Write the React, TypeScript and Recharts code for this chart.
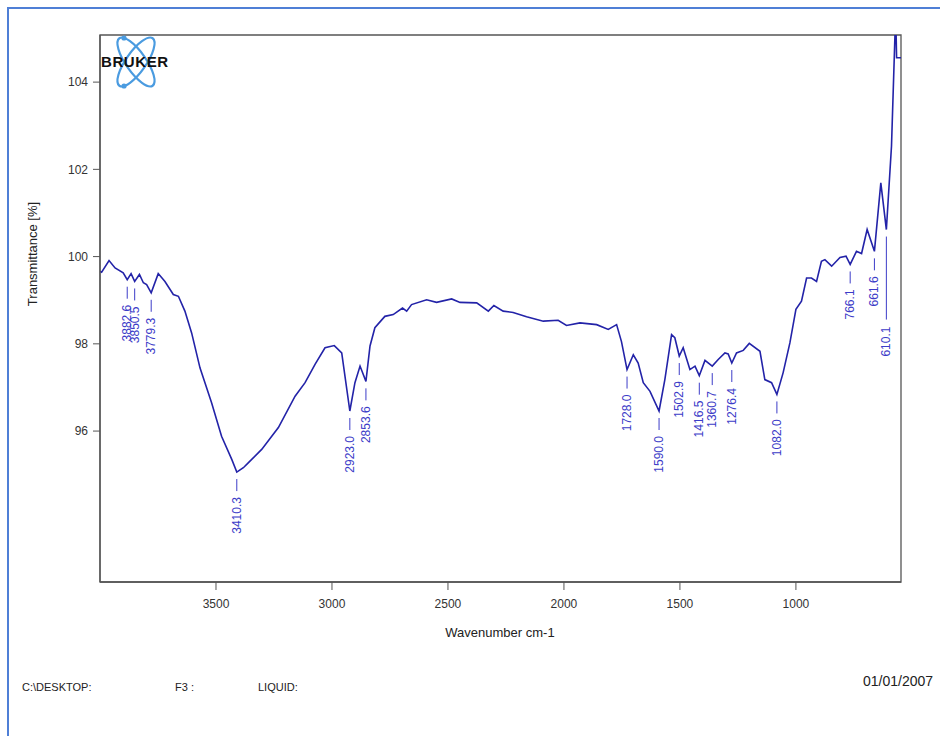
import React from "react";
import { ComposedChart, Line, Scatter, XAxis, YAxis, ReferenceArea } from "recharts";

const WAVENUMBERS = [
  4000, 3993, 3961, 3935, 3900, 3882.6, 3866, 3850.5, 3830, 3813, 3799, 3779.3, 3749, 3720, 3684, 3662,
  3634, 3605, 3569, 3519, 3476, 3432, 3410.3, 3382, 3361, 3303, 3231, 3159, 3116, 3073, 3030, 2990,
  2958, 2923.0, 2901, 2879, 2853.6, 2836, 2815, 2772, 2736, 2696, 2678, 2657, 2592, 2549, 2484, 2448,
  2376, 2326, 2302, 2262, 2219, 2161, 2089, 2025, 1989, 1931, 1859, 1809, 1773, 1752, 1728.0, 1701,
  1680, 1658, 1629, 1590.0, 1565, 1536, 1522, 1502.9, 1486, 1457, 1435, 1416.5, 1392, 1360.7, 1335,
  1306, 1292, 1276.4, 1256, 1227, 1201, 1155, 1134, 1105, 1082.0, 1055, 1026, 1000, 976, 954, 933,
  911, 890, 875, 846, 810, 784, 766.1, 739, 717, 693, 661.6, 634, 610.1, 588, 573, 570, 566, 547,
];
const TRANSMITTANCE = [
  99.66, 99.64, 99.91, 99.74, 99.63, 99.47, 99.61, 99.43, 99.59, 99.4, 99.36, 99.17, 99.61, 99.43, 99.13, 99.09,
  98.75, 98.25, 97.45, 96.65, 95.88, 95.35, 95.06, 95.16, 95.27, 95.58, 96.08, 96.8, 97.11, 97.53, 97.91, 97.96,
  97.79, 96.46, 97.11, 97.49, 97.14, 97.95, 98.37, 98.63, 98.67, 98.82, 98.75, 98.9, 99.01, 98.95, 99.03, 98.95,
  98.94, 98.75, 98.88, 98.75, 98.72, 98.62, 98.52, 98.54, 98.42, 98.48, 98.44, 98.33, 98.44, 98.05, 97.41, 97.75,
  97.56, 97.11, 96.91, 96.46, 97.18, 98.21, 98.14, 97.72, 97.91, 97.41, 97.49, 97.27, 97.62, 97.49, 97.64,
  97.79, 97.77, 97.56, 97.79, 97.85, 98.01, 97.83, 97.18, 97.11, 96.84, 97.34, 98.02, 98.79, 98.98, 99.51, 99.51,
  99.43, 99.89, 99.93, 99.78, 99.98, 100.01, 99.82, 100.12, 100.07, 100.62, 100.12, 101.69, 100.62, 102.53, 105.08, 105.6, 104.56, 104.56,
];

const PEAK_WAVENUMBERS = [3882.6, 3850.5, 3779.3, 3410.3, 2923.0, 2853.6, 1728.0, 1590.0, 1502.9, 1416.5, 1360.7, 1276.4, 1082.0, 766.1, 661.6, 610.1];
const PEAK_LABELS = ["3882.6", "3850.5", "3779.3", "3410.3", "2923.0", "2853.6", "1728.0", "1590.0", "1502.9", "1416.5", "1360.7", "1276.4", "1082.0", "766.1", "661.6", "610.1"];
const LONG_LEADER = ["610.1"];

const X_TICKS = [3500, 3000, 2500, 2000, 1500, 1000];
const Y_TICKS = [96, 98, 100, 102, 104];
const X_DOMAIN: [number, number] = [547, 4000];
const Y_DOMAIN: [number, number] = [92.54, 105.08];

const spectrum = WAVENUMBERS.map((wn, i) => ({ wn, t: TRANSMITTANCE[i] }));
const peaks = PEAK_WAVENUMBERS.map((wn, i) => {
  const p = spectrum.find((s) => s.wn === wn);
  return { wn, t: p ? p.t : 0, label: PEAK_LABELS[i] };
});

const FONT = "'Liberation Sans', Arial, Helvetica, sans-serif";
const LABEL_BLUE = "#3c3cc8";
const AXIS_GRAY = "#555";

const PeakMark = (props: any) => {
  const { cx, cy, payload } = props;
  if (cx == null || cy == null || !payload) return <g />;
  const long = LONG_LEADER.includes(payload.label);
  const y1 = cy + 7;
  const y2 = long ? cy + 90 : cy + 19;
  const ty = long ? cy + 97 : cy + 25;
  return (
    <g>
      <line x1={cx} x2={cx} y1={y1} y2={y2} stroke={LABEL_BLUE} strokeWidth={1} />
      <text
        x={cx}
        y={ty}
        transform={`rotate(-90 ${cx} ${ty})`}
        textAnchor="end"
        dominantBaseline="central"
        fontSize={12}
        fontFamily={FONT}
        fill={LABEL_BLUE}
      >
        {payload.label}
      </text>
    </g>
  );
};

const Logo = () => (
  <svg width={80} height={60} style={{ position: "absolute", left: 100, top: 33 }}>
    <g transform="translate(36,29)">
      <ellipse cx={0} cy={0} rx={29} ry={10} transform="rotate(55)" fill="none" stroke="#4a9be0" strokeWidth={2.2} />
      <ellipse cx={0} cy={0} rx={29} ry={10} transform="rotate(-55)" fill="none" stroke="#4a9be0" strokeWidth={2.2} />
      <circle cx={-12} cy={-24} r={2.6} fill="#4a9be0" />
      <circle cx={-12} cy={24} r={2.6} fill="#4a9be0" />
    </g>
    <text x={1} y={34} fontSize={15} fontWeight="bold" fontFamily={FONT} fill="#111" letterSpacing={0.6}>
      BRUKER
    </text>
  </svg>
);

const footerStyle: React.CSSProperties = {
  position: "absolute",
  top: 681,
  fontFamily: FONT,
  fontSize: 11,
  color: "#222",
  whiteSpace: "nowrap",
};

export default function App() {
  return (
    <div style={{ position: "fixed", left: 0, top: 0, width: 940, height: 736, overflow: "hidden", background: "#fff" }}>
      <div
        style={{
          position: "absolute",
          left: 7,
          top: 7,
          width: 960,
          height: 760,
          borderLeft: "2px solid #4f7fd6",
          borderTop: "2px solid #4f7fd6",
        }}
      />
      <div style={{ position: "absolute", left: 0, top: 0 }}>
        <ComposedChart width={940} height={736} margin={{ top: 35, right: 39, bottom: 94, left: 40 }}>
          <XAxis
            dataKey="wn"
            type="number"
            domain={X_DOMAIN}
            reversed
            allowDataOverflow
            ticks={X_TICKS}
            tickSize={8}
            tickMargin={9}
            height={60}
            axisLine={{ stroke: AXIS_GRAY, strokeWidth: 1.3 }}
            tickLine={{ stroke: AXIS_GRAY }}
            tick={{ fill: "#333", fontSize: 12, fontFamily: FONT }}
          />
          <YAxis
            dataKey="t"
            type="number"
            domain={Y_DOMAIN}
            allowDataOverflow
            ticks={Y_TICKS}
            tickSize={7}
            tickMargin={5}
            width={60}
            axisLine={{ stroke: AXIS_GRAY, strokeWidth: 1.3 }}
            tickLine={{ stroke: AXIS_GRAY }}
            tick={{ fill: "#333", fontSize: 12, fontFamily: FONT }}
          />
          <ReferenceArea
            x1={X_DOMAIN[1]}
            x2={X_DOMAIN[0]}
            y1={Y_DOMAIN[0]}
            y2={Y_DOMAIN[1]}
            fill="none"
            fillOpacity={0}
            stroke={AXIS_GRAY}
            strokeWidth={1.3}
          />
          <Line
            data={spectrum}
            dataKey="t"
            type="linear"
            stroke="#2323a8"
            strokeWidth={1.6}
            dot={false}
            isAnimationActive={false}
          />
          <Scatter data={peaks} dataKey="t" shape={PeakMark} isAnimationActive={false} />
        </ComposedChart>
      </div>
      <Logo />
      <div
        style={{
          position: "absolute",
          left: 32,
          top: 254,
          transform: "translate(-50%, -50%) rotate(-90deg)",
          fontFamily: FONT,
          fontSize: 13,
          color: "#222",
          whiteSpace: "nowrap",
        }}
      >
        Transmittance [%]
      </div>
      <div
        style={{
          position: "absolute",
          left: 500,
          top: 632,
          transform: "translate(-50%, -50%)",
          fontFamily: FONT,
          fontSize: 13,
          color: "#222",
          whiteSpace: "nowrap",
        }}
      >
        Wavenumber cm-1
      </div>
      <div style={{ ...footerStyle, left: 22 }}>C:\DESKTOP:</div>
      <div style={{ ...footerStyle, left: 175 }}>F3 :</div>
      <div style={{ ...footerStyle, left: 258 }}>LIQUID:</div>
      <div style={{ ...footerStyle, left: 863, top: 673, fontSize: 14 }}>01/01/2007</div>
    </div>
  );
}
